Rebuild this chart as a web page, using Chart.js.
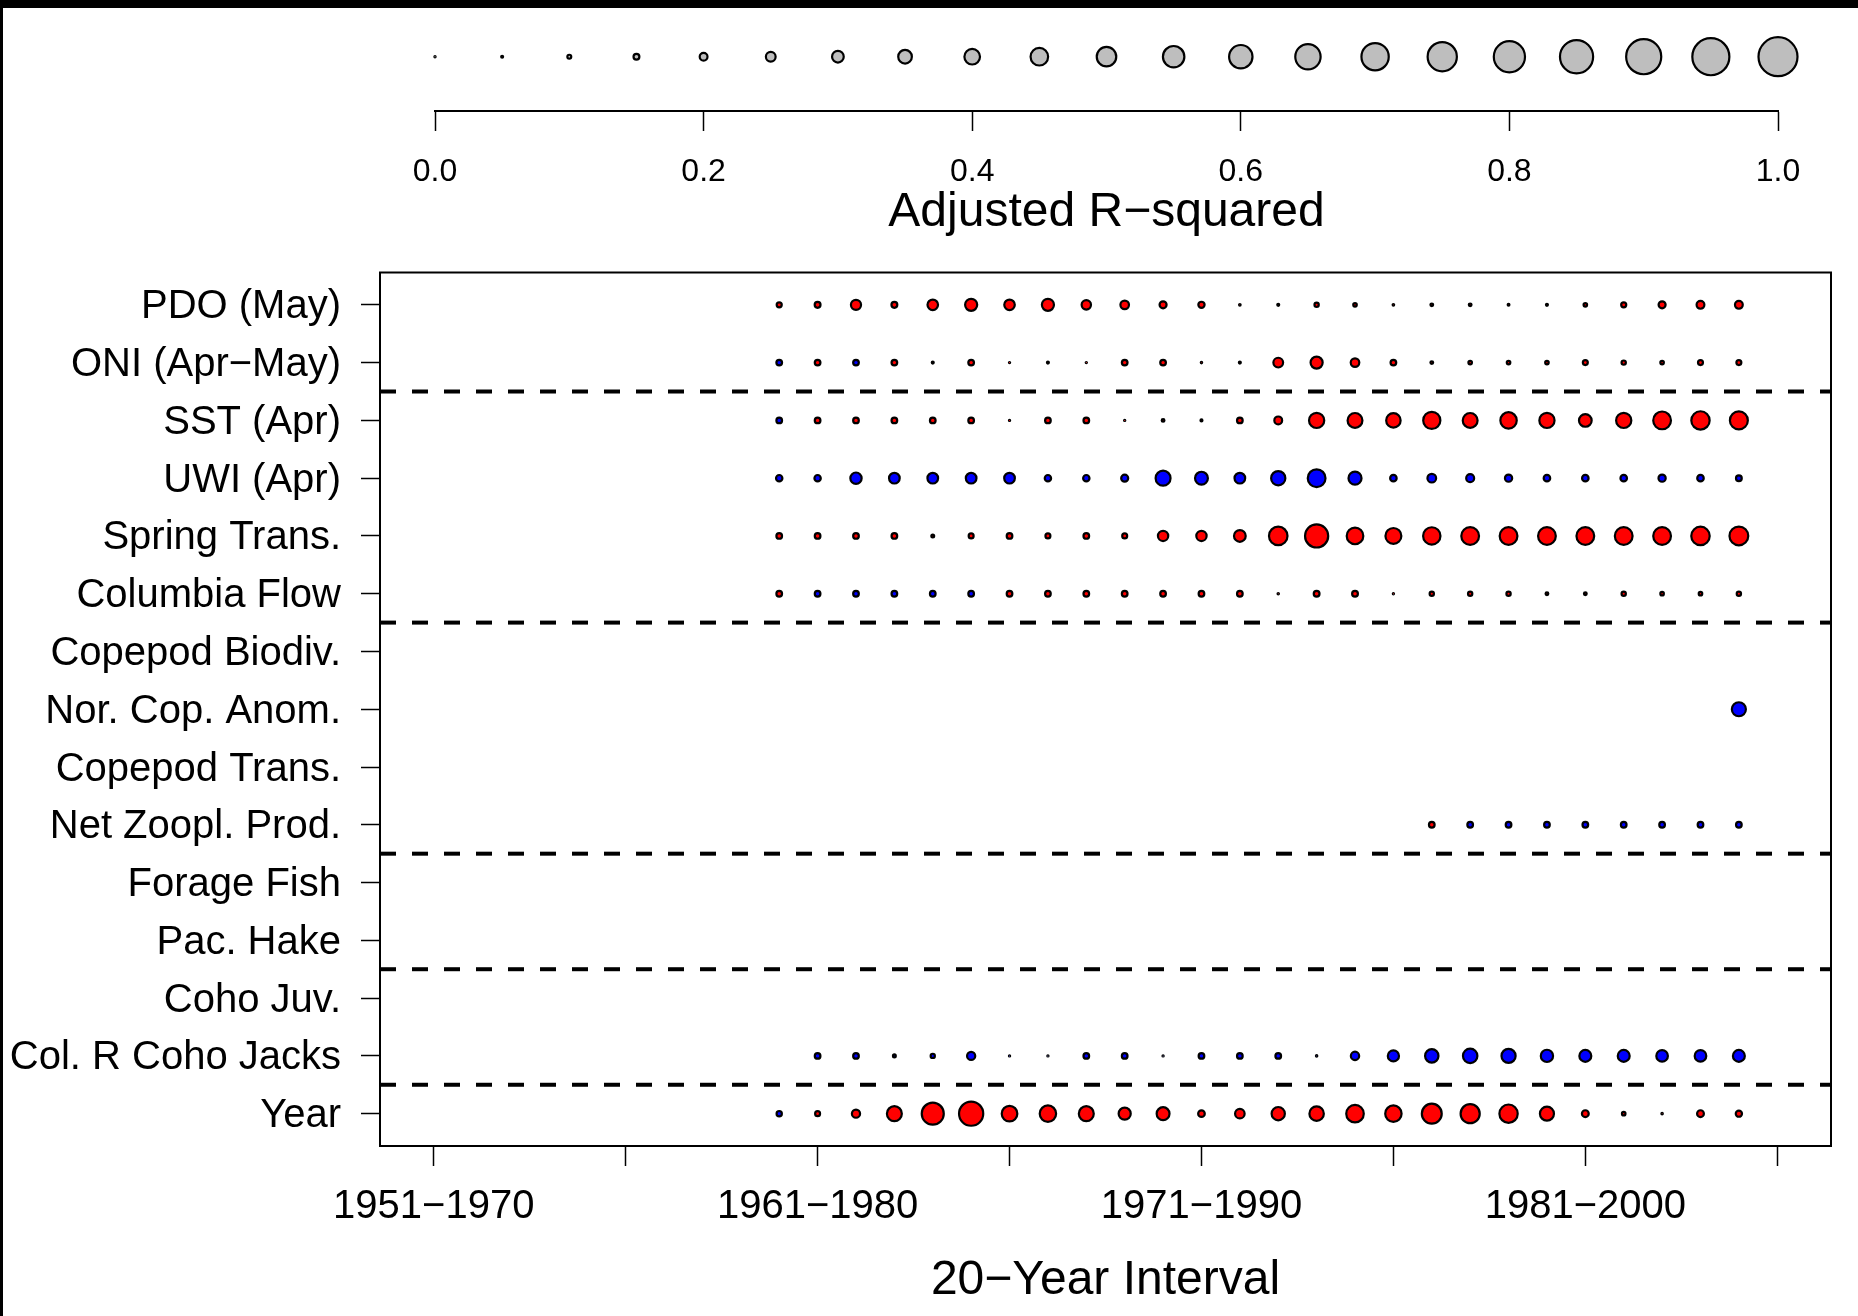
<!DOCTYPE html>
<html>
<head>
<meta charset="utf-8">
<title>Adjusted R-squared by 20-year interval</title>
<script src="https://cdn.jsdelivr.net/npm/chart.js@4.4.1/dist/chart.umd.min.js"></script>
<style>
  html, body { margin: 0; padding: 0; background: #fff; }
  #wrap { position: relative; width: 1858px; height: 1316px; background: #fff; overflow: hidden; }
  #wrap canvas { position: absolute; left: 0; top: 0; }
  .edge { position: absolute; background: #000; z-index: 5; }
</style>
</head>
<body>
<div id="wrap">
  <canvas id="chart-main" width="1858" height="1316"></canvas>
  <canvas id="chart-key" width="1858" height="1316"></canvas>
  <div class="edge" style="left:0;top:0;width:1858px;height:8px"></div>
  <div class="edge" style="left:0;top:0;width:3px;height:1316px"></div>
</div>
<script>
// start year of each 20-year window (1960-1979 ... 1985-2004)
const intervalStarts = [1960, 1961, 1962, 1963, 1964, 1965, 1966, 1967, 1968, 1969, 1970, 1971, 1972,
  1973, 1974, 1975, 1976, 1977, 1978, 1979, 1980, 1981, 1982, 1983, 1984, 1985];

const variables = ['PDO (May)', 'ONI (Apr\u2212May)', 'SST (Apr)', 'UWI (Apr)', 'Spring Trans.',
  'Columbia Flow', 'Copepod Biodiv.', 'Nor. Cop. Anom.', 'Copepod Trans.', 'Net Zoopl. Prod.',
  'Forage Fish', 'Pac. Hake', 'Coho Juv.', 'Col. R Coho Jacks', 'Year'];

// adjusted R-squared, sign = direction of the effect (+ red, - blue), null = no model
const pdoMay = [0.13, 0.15, 0.26, 0.15, 0.27, 0.31, 0.27, 0.31, 0.24, 0.22, 0.18, 0.16, 0.04,
  0.05, 0.11, 0.09, 0.04, 0.07, 0.07, 0.045, 0.05, 0.09, 0.13, 0.18, 0.2, 0.2];
const oniAprMay = [-0.145, 0.145, -0.145, 0.145, 0.05, 0.145, 0.02, 0.05, 0.02, 0.145, 0.145, 0.035, 0.05,
  0.25, 0.31, 0.22, 0.145, 0.07, 0.09, 0.09, 0.09, 0.127, 0.11, 0.09, 0.127, 0.127];
const sstApr = [-0.145, 0.145, 0.145, 0.145, 0.145, 0.145, 0.02, 0.145, 0.145, 0.02, 0.07, 0.05, 0.145,
  0.2, 0.39, 0.38, 0.37, 0.44, 0.38, 0.42, 0.39, 0.325, 0.39, 0.455, 0.47, 0.46];
const uwiApr = [-0.163, -0.163, -0.29, -0.273, -0.273, -0.273, -0.273, -0.163, -0.163, -0.18, -0.383, -0.33, -0.273,
  -0.365, -0.455, -0.334, -0.167, -0.223, -0.204, -0.185, -0.167, -0.167, -0.167, -0.185, -0.167, -0.148];
const springTrans = [0.145, 0.145, 0.145, 0.145, 0.072, 0.127, 0.145, 0.127, 0.145, 0.127, 0.264, 0.264, 0.3,
  0.475, 0.594, 0.426, 0.408, 0.445, 0.455, 0.455, 0.455, 0.455, 0.455, 0.455, 0.473, 0.482];
const columbiaFlow = [0.145, -0.145, -0.145, -0.145, -0.145, -0.145, 0.145, 0.145, 0.145, 0.145, 0.145, 0.145, 0.145,
  0.035, 0.148, 0.148, 0.02, 0.11, 0.11, 0.11, 0.07, 0.07, 0.11, 0.09, 0.09, 0.11];
const copepodBiodiv = [];
const norCopAnom = [null, null, null, null, null, null, null, null, null, null, null, null, null,
  null, null, null, null, null, null, null, null, null, null, null, null, -0.36];
const copepodTrans = [];
const netZooplProd = [null, null, null, null, null, null, null, null, null, null, null, null, null,
  null, null, null, null, 0.145, -0.145, -0.145, -0.145, -0.145, -0.145, -0.145, -0.145, -0.145];
const forageFish = [];
const pacHake = [];
const cohoJuv = [];
const cohoJacks = [null, -0.145, -0.145, -0.072, -0.108, -0.21, -0.02, -0.02, -0.145, -0.145, -0.02, -0.145, -0.145,
  -0.145, -0.035, -0.213, -0.287, -0.343, -0.37, -0.362, -0.315, -0.306, -0.306, -0.297, -0.297, -0.306];
const yearTrend = [-0.135, 0.127, 0.21, 0.383, 0.565, 0.62, 0.40, 0.42, 0.383, 0.31, 0.33, 0.17, 0.245,
  0.34, 0.37, 0.45, 0.42, 0.51, 0.49, 0.47, 0.36, 0.175, 0.09, 0.036, 0.175, 0.16];

const rowValues = [pdoMay, oniAprMay, sstApr, uwiApr, springTrans, columbiaFlow, copepodBiodiv,
  norCopAnom, copepodTrans, netZooplProd, forageFish, pacHake, cohoJuv, cohoJacks, yearTrend];

const xTickStarts = [1951, 1956, 1961, 1966, 1971, 1976, 1981, 1986];
const xTickLabels = ['1951\u22121970', '', '1961\u22121980', '', '1971\u22121990', '', '1981\u22122000', ''];
const groupBreaks = [1.5, 5.5, 9.5, 11.5, 13.5];

const legendR2 = [0, 0.05, 0.1, 0.15, 0.2, 0.25, 0.3, 0.35, 0.4, 0.45, 0.5, 0.55, 0.6, 0.65, 0.7,
  0.75, 0.8, 0.85, 0.9, 0.95, 1.0];
const legendTicks = [0, 0.2, 0.4, 0.6, 0.8, 1.0];

const R_SCALE = 19.5;   // bubble radius (px) for R-squared = 1
const radiusOf = v => Math.max(0.6, Math.abs(v) * R_SCALE);

Chart.defaults.font.family = "'Liberation Sans', Arial, Helvetica, sans-serif";
Chart.defaults.color = '#000';

const panelLines = {
  id: 'panelLines',
  beforeDatasetsDraw(chart) {
    const {ctx, chartArea: a, scales: {y}} = chart;
    ctx.save();
    ctx.strokeStyle = '#000';
    ctx.lineWidth = 4;
    ctx.setLineDash([16, 16]);
    groupBreaks.forEach(b => {
      const py = y.getPixelForValue(b);
      ctx.beginPath();
      ctx.moveTo(a.left, py);
      ctx.lineTo(a.right, py);
      ctx.stroke();
    });
    ctx.setLineDash([]);
    ctx.lineWidth = 2;
    ctx.strokeRect(a.left, a.top, a.right - a.left, a.bottom - a.top);
    ctx.restore();
  }
};

const datasets = rowValues.map((vals, row) => ({
  label: variables[row],
  data: vals.map((v, i) => (v == null ? null : {x: intervalStarts[i], y: row, r: radiusOf(v), v: v}))
    .filter(p => p),
  backgroundColor: c => (c.raw && c.raw.v < 0 ? '#0000ff' : '#ff0000'),
  borderColor: '#000',
  borderWidth: 2.2,
  clip: false
}));

new Chart(document.getElementById('chart-main'), {
  type: 'bubble',
  data: {datasets: datasets},
  options: {
    responsive: false,
    animation: false,
    events: [],
    layout: {autoPadding: false, padding: {top: 272.5, right: 27, bottom: 6.3, left: 0}},
    plugins: {legend: {display: false}, tooltip: {enabled: false}},
    scales: {
      x: {
        type: 'linear', min: 1949.6, max: 1987.4,
        afterBuildTicks: s => { s.ticks = xTickStarts.map(v => ({value: v})); },
        ticks: {
          font: {size: 40}, padding: 16.5, autoSkip: false, minRotation: 0, maxRotation: 0,
          callback: (v, i) => xTickLabels[i]
        },
        grid: {drawOnChartArea: false, tickLength: 20, tickColor: '#000', tickWidth: 1.5},
        border: {display: false},
        title: {display: true, text: '20\u2212Year Interval', font: {size: 48}, padding: {top: 5.1, bottom: 0}}
      },
      y: {
        type: 'linear', min: -0.56, max: 14.56, reverse: true,
        afterBuildTicks: s => { s.ticks = variables.map((_, i) => ({value: i})); },
        ticks: {font: {size: 40}, padding: 20, labelOffset: 2.5, autoSkip: false, callback: v => variables[v]},
        grid: {drawOnChartArea: false, tickLength: 19, tickColor: '#000', tickWidth: 1.5},
        border: {display: false},
        afterFit: s => { s.width = 380; s.paddingTop = 0; s.paddingBottom = 0; }
      }
    }
  },
  plugins: [panelLines]
});

// size key on top
new Chart(document.getElementById('chart-key'), {
  type: 'bubble',
  data: {
    datasets: [{
      data: legendR2.map(v => ({x: v, y: 0.5, r: radiusOf(v)})),
      backgroundColor: '#bebebe',
      borderColor: '#000',
      borderWidth: 2.2,
      clip: false
    }]
  },
  options: {
    responsive: false,
    animation: false,
    events: [],
    layout: {autoPadding: false, padding: {top: 2.4, left: 435, right: 80, bottom: 1074}},
    plugins: {legend: {display: false}, tooltip: {enabled: false}},
    scales: {
      x: {
        type: 'linear', min: 0, max: 1,
        afterBuildTicks: s => { s.ticks = legendTicks.map(v => ({value: v})); },
        ticks: {font: {size: 32}, padding: 22.3, autoSkip: false, maxRotation: 0, callback: v => v.toFixed(1)},
        grid: {drawOnChartArea: false, tickLength: 20, tickColor: '#000', tickWidth: 1.5},
        border: {display: true, color: '#000', width: 2},
        title: {display: true, text: 'Adjusted R\u2212squared', font: {size: 48}, padding: 0},
        afterFit: s => { s.height = 131; }
      },
      y: {display: false, min: 0, max: 1}
    }
  }
});
</script>
</body>
</html>
